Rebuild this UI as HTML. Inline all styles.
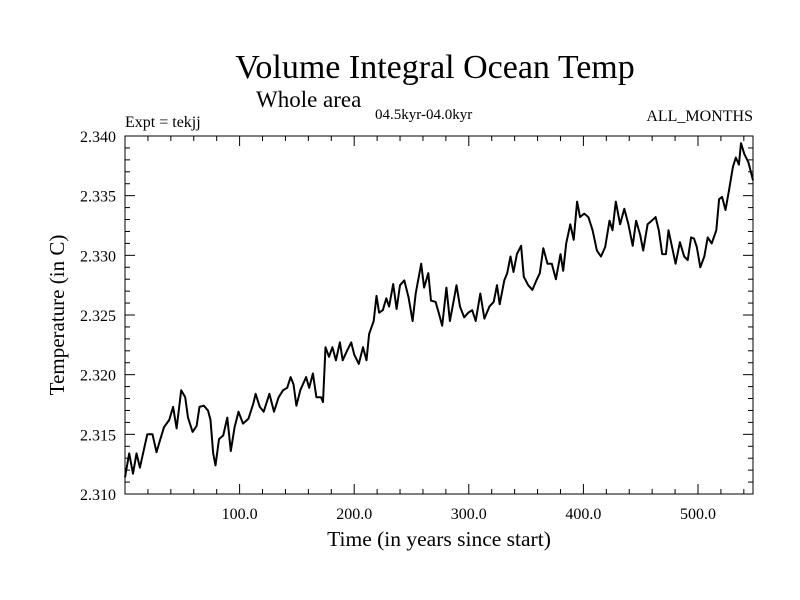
<!DOCTYPE html>
<html><head><meta charset="utf-8"><style>
body{margin:0;background:#fff;}
svg{display:block;font-family:"Liberation Serif",serif;}
</style></head><body>
<svg id="chart" width="800" height="600">
<rect width="800" height="600" fill="#fff"/>
<text x="435" y="78" font-size="34" text-anchor="middle">Volume Integral Ocean Temp</text>
<text x="256" y="107" font-size="23">Whole area</text>
<text x="375" y="119" font-size="15">04.5kyr-04.0kyr</text>
<text x="125" y="127" font-size="16">Expt = tekjj</text>
<text x="753" y="121" font-size="16" text-anchor="end">ALL_MONTHS</text>
<text transform="translate(64,315) rotate(-90)" font-size="21" text-anchor="middle">Temperature (in C)</text>
<text x="439" y="546" font-size="21.5" text-anchor="middle">Time (in years since start)</text>
<g id="axes"></g>
<path id="series" fill="none" stroke="#000" stroke-width="2" stroke-linejoin="round"/>
<rect x="125" y="136" width="628" height="358" fill="none" stroke="#000" stroke-width="1"/>
</svg>
<script>
const years=[0,3.7,7,10,13,16,19.5,24,27.5,30.5,34,38.6,42,45,49,52.5,55,59,62.5,65,68.8,72.4,74.6,77,79,82,85.7,89.3,92.3,95.6,99,103,107.7,112,114,117.6,121,126,130,134,138,141.5,144.5,147,149.6,153,158,160.7,164,167,171,172.8,175,178,181,184,187.5,190,193.7,197.4,200,204,207.7,210.7,213,217,219.5,221.7,225,228,230.5,234,237,240,243.7,247.4,251,253.7,258.5,261,264.7,267,271,274,276.8,280.5,283.5,286.8,289.3,292.3,296,299.6,303,306,310,313.6,318,321.7,324.6,327,331,333.5,336.4,339,342,345.6,348,351.8,355.5,359,362,365,368.7,372.4,376,380,382.4,385,388.6,391.5,394.5,397,400.7,404.4,408,411.8,415.4,419,422.8,425.4,428.3,432,435.7,439.3,443,446,449.6,452.2,456,459.6,463,465.8,468.8,472,474.3,478,480.5,484.2,488,491,494,496.5,499,502,505.5,508.5,512,516,518.4,521,524,527,530.5,533,535.7,537.5,540.4,544,548];
const temps=[2.3114,2.3134,2.3117,2.3134,2.3122,2.3135,2.3150,2.3150,2.3135,2.3145,2.3156,2.3162,2.3173,2.3155,2.3187,2.3181,2.3164,2.3152,2.3157,2.3173,2.3174,2.3170,2.3162,2.3134,2.3124,2.3146,2.3149,2.3164,2.3136,2.3156,2.3169,2.3159,2.3163,2.3176,2.3184,2.3173,2.3169,2.3184,2.3169,2.3181,2.3187,2.3189,2.3198,2.3192,2.3174,2.3187,2.3198,2.3189,2.3201,2.3181,2.3181,2.3177,2.3223,2.3215,2.3223,2.3212,2.3227,2.3212,2.3220,2.3227,2.3217,2.3209,2.3223,2.3212,2.3234,2.3245,2.3266,2.3252,2.3254,2.3264,2.3257,2.3276,2.3255,2.3275,2.3279,2.3265,2.3245,2.3268,2.3293,2.3273,2.3285,2.3262,2.3261,2.3251,2.3241,2.3273,2.3245,2.3262,2.3275,2.3257,2.3248,2.3252,2.3254,2.3245,2.3268,2.3247,2.3257,2.3261,2.3275,2.3259,2.3279,2.3285,2.3299,2.3286,2.3301,2.3308,2.3282,2.3275,2.3271,2.3279,2.3285,2.3306,2.3293,2.3293,2.3280,2.3301,2.3287,2.3310,2.3326,2.3313,2.3345,2.3332,2.3335,2.3332,2.3321,2.3304,2.3299,2.3307,2.3329,2.3321,2.3345,2.3326,2.3339,2.3326,2.3308,2.3329,2.3317,2.3304,2.3326,2.3329,2.3332,2.3321,2.3301,2.3301,2.3321,2.3304,2.3293,2.3311,2.3299,2.3296,2.3315,2.3314,2.3307,2.3290,2.3299,2.3315,2.3310,2.3321,2.3347,2.3349,2.3338,2.3354,2.3374,2.3382,2.3376,2.3394,2.3385,2.3378,2.3363];
const xTicks=[100,200,300,400,500];
const xTickLabels=["100.0","200.0","300.0","400.0","500.0"];
const yTicks=[2.310,2.315,2.320,2.325,2.330,2.335,2.340];
const yTickLabels=["2.310","2.315","2.320","2.325","2.330","2.335","2.340"];

const L=125,R=753,T=136,B=494,X0=0,X1=548,Y0=2.310,Y1=2.340;
const sx=v=>L+(v-X0)/(X1-X0)*(R-L);
const sy=v=>B-(v-Y0)/(Y1-Y0)*(B-T);
const NS="http://www.w3.org/2000/svg";
const axes=document.getElementById('axes');
function line(x1,y1,x2,y2,name){
  const l=document.createElementNS(NS,'line');
  l.setAttribute('x1',x1);l.setAttribute('y1',y1);l.setAttribute('x2',x2);l.setAttribute('y2',y2);
  l.setAttribute('stroke','#000');l.setAttribute('stroke-width','1');
  
  
  axes.appendChild(l);
}
function text(x,y,s,anchor,name){
  const t=document.createElementNS(NS,'text');
  t.setAttribute('x',x);t.setAttribute('y',y);t.setAttribute('font-size','16');
  t.setAttribute('text-anchor',anchor);t.textContent=s;
  
  
  axes.appendChild(t);
}
for(let v=20;v<X1;v+=20){
  const x=sx(v);const major=v%100===0;const len=major?10:5;
  line(x,B,x,B-len,'x-tick');
  line(x,T,x,T+len,'x-tick-top');
}
xTicks.forEach((v,i)=>text(sx(v),519,xTickLabels[i],'middle','x-tick-label'));
for(let k=1;k<30;k++){
  const v=Y0+k*0.001;const y=sy(v);const major=k%5===0;const len=major?10:5;
  line(L,y,L+len,y,'y-tick');
  line(R,y,R-len,y,'y-tick-right');
}
yTicks.forEach((v,i)=>text(116,sy(v)+6,yTickLabels[i],'end','y-tick-label'));
let d='';
years.forEach((v,i)=>{d+=(i?'L':'M')+sx(v).toFixed(1)+','+sy(temps[i]).toFixed(1);});
document.getElementById('series').setAttribute('d',d);
</script>
</body></html>
